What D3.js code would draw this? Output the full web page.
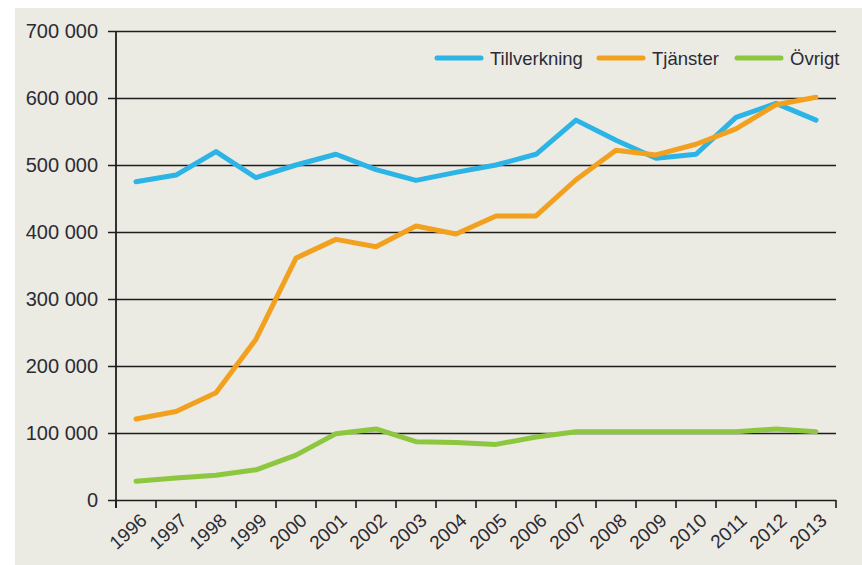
<!DOCTYPE html>
<html>
<head>
<meta charset="utf-8">
<script src="https://cdn.jsdelivr.net/npm/d3@7"></script>
<style>
  body { margin: 0; background: #fff; }
  text { font-family: "Liberation Sans", Arial, sans-serif; fill: #2b2b35; }
</style>
</head>
<body>
<svg id="chart" width="862" height="565"></svg>
<script>
var years = ["1996","1997","1998","1999","2000","2001","2002","2003","2004","2005",
             "2006","2007","2008","2009","2010","2011","2012","2013"];
var tillverkning = [475000, 485000, 520000, 481000, 500000, 516000, 493000, 477000, 489000, 500000,
                    516000, 567000, 537000, 510000, 516000, 571000, 592000, 567000];
var tjanster = [121000, 132000, 160000, 240000, 361000, 389000, 378000, 409000, 397000, 424000,
                424000, 478000, 522000, 515000, 531000, 554000, 590000, 601000];
var ovrigt = [28000, 33000, 37000, 45000, 67000, 99000, 106000, 87000, 86000, 83000,
              94000, 102000, 102000, 102000, 102000, 102000, 106000, 102000];
var yTicks = [0, 100000, 200000, 300000, 400000, 500000, 600000, 700000];
var seriesNames = ["Tillverkning", "Tjänster", "Övrigt"];
var seriesColors = ["#2bb4e5", "#f2a11f", "#8dc63f"];

var svg = d3.select("#chart");
var mLeft = 116, mRight = 836, mTop = 31, mBottom = 500;

// beige panel
svg.append("rect").attr("x", 15).attr("y", 8).attr("width", 847).attr("height", 557).attr("fill", "#ebeae3");

var x = d3.scaleBand().domain(years).range([mLeft, mRight]);
var y = d3.scaleLinear().domain([0, 700000]).range([mBottom, mTop]);
var fmt = d3.formatLocale({decimal: ",", thousands: " ", grouping: [3], currency: ["", ""]}).format(",d");

// gridlines + y labels
var yAxis = svg.append("g")
    .attr("transform", "translate(" + mLeft + ",0)")
    .call(d3.axisLeft(y).tickValues(yTicks).tickSize(-(mRight - mLeft)).tickSizeOuter(0).tickPadding(18).tickFormat(fmt));
yAxis.select(".domain").remove();
yAxis.selectAll(".tick line").attr("x1", -8).attr("stroke", "#1e1e1e").attr("stroke-width", 1.6);
yAxis.selectAll(".tick text").style("font-size", "20px").attr("fill", "#2b2b35");

// y axis line
svg.append("line").attr("x1", mLeft).attr("x2", mLeft).attr("y1", y(700000)).attr("y2", mBottom + 8)
    .attr("stroke", "#1e1e1e").attr("stroke-width", 1.8);

// x axis ticks at band boundaries
var bounds = years.map(function(d) { return x(d); }).concat([mRight]);
svg.selectAll(".xtick").data(bounds).enter().append("line")
    .attr("class", "xtick")
    .attr("x1", function(d) { return d; }).attr("x2", function(d) { return d; })
    .attr("y1", mBottom).attr("y2", mBottom + 8)
    .attr("stroke", "#1e1e1e").attr("stroke-width", 1.6);

// x labels
svg.selectAll(".xlab").data(years).enter().append("text")
    .attr("class", "xlab")
    .attr("transform", function(d) { return "translate(" + (x(d) + x.bandwidth() / 2 + 3) + "," + (mBottom + 12) + ") rotate(-42)"; })
    .attr("text-anchor", "end")
    .attr("dy", "0.72em")
    .style("font-size", "19px")
    .text(function(d) { return d; });

// lines
var line = d3.line()
    .x(function(d, i) { return x(years[i]) + x.bandwidth() / 2; })
    .y(function(d) { return y(d); });

[tillverkning, tjanster, ovrigt].forEach(function(s, k) {
    svg.append("path").datum(s)
        .attr("d", line)
        .attr("fill", "none")
        .attr("stroke", seriesColors[k])
        .attr("stroke-width", 5)
        .attr("stroke-linejoin", "round")
        .attr("stroke-linecap", "round");
});

// legend
var legX = [437, 599, 737];
var leg = svg.selectAll(".leg").data(seriesNames).enter().append("g")
    .attr("class", "leg")
    .attr("transform", function(d, i) { return "translate(" + legX[i] + ",58)"; });
leg.append("line").attr("x1", 0).attr("x2", 44).attr("y1", 0).attr("y2", 0)
    .attr("stroke", function(d, i) { return seriesColors[i]; })
    .attr("stroke-width", 5).attr("stroke-linecap", "round");
leg.append("text").attr("x", 53).attr("y", 7).style("font-size", "18.5px").text(function(d) { return d; });
</script>
</body>
</html>
